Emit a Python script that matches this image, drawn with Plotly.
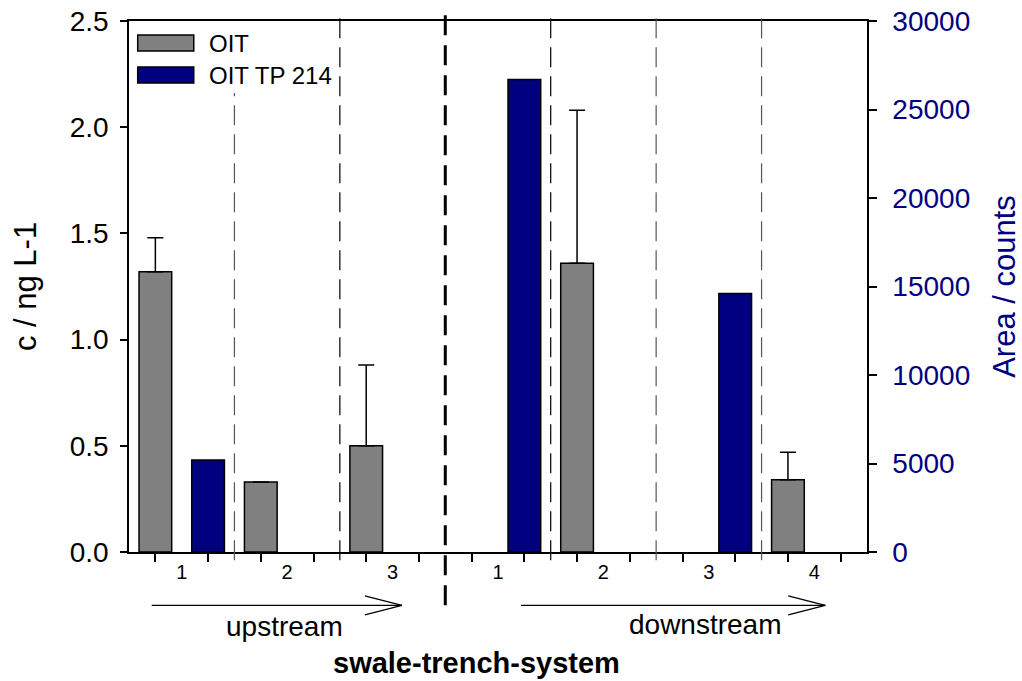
import plotly.graph_objects as go

# ---------------- data ----------------
groups = ["1", "2", "3", "1", "2", "3", "4"]          # sampling points (upstream 1-3, downstream 1-4)
oit_conc = [1.32, 0.33, 0.50, None, 1.36, None, 0.34]   # c / ng L-1
oit_err = [0.16, None, 0.38, None, 0.72, None, 0.13]    # + error
tp214_area = [5200, None, None, 26700, None, 14600, None]  # Area / counts
left_ticks = [0.0, 0.5, 1.0, 1.5, 2.0, 2.5]
right_ticks = [0, 5000, 10000, 15000, 20000, 25000, 30000]

NAVY = "#000080"
GRAY = "#808080"
FONT = "Liberation Sans, Arial, sans-serif"

W, H = 1022, 681
L, R, T, B = 129.3, 866.7, 21.0, 551.7  # plot area in pixels


def px(X):
    return (X - L) / (R - L)


def py(Y):
    return (B - Y) / (B - T)


# positions: each group spans 2 slots; OIT in first, TP 214 in second
x_oit = [2 * i + 0.5 for i in range(len(groups))]
x_tp = [2 * i + 1.5 for i in range(len(groups))]

fig = go.Figure()
fig.add_trace(go.Bar(
    x=x_oit, y=oit_conc, name="OIT", width=0.62,
    marker=dict(color=GRAY, line=dict(color="black", width=1.5)),
    error_y=dict(type="data", array=oit_err, symmetric=False,
                 arrayminus=[0] * len(oit_err), color="black",
                 thickness=1.5, width=8),
    yaxis="y", showlegend=False,
))
fig.add_trace(go.Bar(
    x=x_tp, y=tp214_area, name="OIT TP 214", width=0.62,
    marker=dict(color=NAVY, line=dict(color="black", width=1.5)),
    yaxis="y2", showlegend=False,
))

shapes = []
annotations = []

# group separators (dashed)
sep_x = [2, 4, 8, 10, 12]
sep_color = ["#555555", "black", "black", "#555555", "#555555"]
sep_top = [93, 12, 12, 12, 12]
for xs, c, yt in zip(sep_x, sep_color, sep_top):
    shapes.append(dict(type="line", xref="x", yref="paper", x0=xs, x1=xs,
                       y0=py(560), y1=py(yt),
                       line=dict(color=c, width=1.2, dash="20px,9px")))
# main divider between upstream and downstream
shapes.append(dict(type="line", xref="x", yref="paper", x0=6, x1=6,
                   y0=py(605), y1=py(13),
                   line=dict(color="black", width=3, dash="20px,10px")))

# arrows (open heads)
def arrow(x0, x1, y):
    return [
        dict(type="line", xref="paper", yref="paper", x0=px(x0), x1=px(x1),
             y0=py(y), y1=py(y), line=dict(color="black", width=1.2)),
        dict(type="line", xref="paper", yref="paper", x0=px(x1 - 37), x1=px(x1),
             y0=py(y - 9.5), y1=py(y), line=dict(color="black", width=1.2)),
        dict(type="line", xref="paper", yref="paper", x0=px(x1 - 37), x1=px(x1),
             y0=py(y + 9.5), y1=py(y), line=dict(color="black", width=1.2)),
    ]

shapes += arrow(152, 402, 605)
shapes += arrow(521, 825, 605)

annotations.append(dict(text="upstream", xref="paper", yref="paper",
                        x=px(285), y=py(626), showarrow=False,
                        font=dict(family=FONT, size=28, color="black"),
                        xanchor="center", yanchor="middle"))
annotations.append(dict(text="downstream", xref="paper", yref="paper",
                        x=px(705), y=py(624), showarrow=False,
                        font=dict(family=FONT, size=28, color="black"),
                        xanchor="center", yanchor="middle"))
annotations.append(dict(text="<b>swale-trench-system</b>", xref="paper", yref="paper",
                        x=px(477), y=py(663), showarrow=False,
                        font=dict(family=FONT, size=29, color="black"),
                        xanchor="center", yanchor="middle"))

# manual legend
leg = [("OIT", GRAY, 43), ("OIT TP 214", NAVY, 75)]
for name, col, yc in leg:
    shapes.append(dict(type="rect", xref="paper", yref="paper",
                       x0=px(138), x1=px(194), y0=py(yc + 8), y1=py(yc - 8),
                       fillcolor=col, line=dict(color="black", width=1.5)))
    annotations.append(dict(text=name, xref="paper", yref="paper",
                            x=px(207), y=py(yc), showarrow=False,
                            xanchor="left", yanchor="middle",
                            font=dict(family=FONT, size=24, color="black")))

fig.update_layout(
    width=W, height=H, autosize=False,
    margin=dict(l=L, r=W - R, t=T, b=H - B, pad=0),
    paper_bgcolor="white", plot_bgcolor="white",
    font=dict(family=FONT, color="black"),
    barmode="overlay",
    shapes=shapes, annotations=annotations,
    xaxis=dict(
        range=[0, 14], showgrid=False, zeroline=False, automargin=False,
        showline=True, linecolor="black", linewidth=1.5, mirror=True,
        tickmode="array", tickvals=[2 * i + 1 for i in range(len(groups))],
        ticktext=groups, ticks="", ticklabelstandoff=1,
        tickfont=dict(family=FONT, size=20, color="black"),
        minor=dict(tick0=0.5, dtick=1, ticks="outside", ticklen=8,
                   tickwidth=1.5, tickcolor="black", showgrid=False),
    ),
    yaxis=dict(
        range=[0, 2.5], showgrid=False, zeroline=False, automargin=False,
        showline=True, linecolor="black", linewidth=1.5,
        tickmode="array", tickvals=left_ticks, tickformat=".1f",
        ticks="outside", ticklen=7, tickwidth=1.5, tickcolor="black",
        ticklabelstandoff=6,
        tickfont=dict(family=FONT, size=28, color="black"),
        title=dict(text="c / ng L-1", standoff=24,
                   font=dict(family=FONT, size=31, color="black")),
    ),
    yaxis2=dict(
        range=[0, 30000], overlaying="y", side="right", automargin=False,
        showgrid=False, zeroline=False,
        showline=True, linecolor="black", linewidth=1.5,
        tickmode="array", tickvals=right_ticks, tickformat="d",
        ticks="outside", ticklen=8, tickwidth=1.5, tickcolor="black",
        ticklabelstandoff=10,
        tickfont=dict(family=FONT, size=28, color=NAVY),
        title=dict(text="Area / counts", standoff=24,
                   font=dict(family=FONT, size=31, color=NAVY)),
    ),
)

fig.write_html("out.html")
